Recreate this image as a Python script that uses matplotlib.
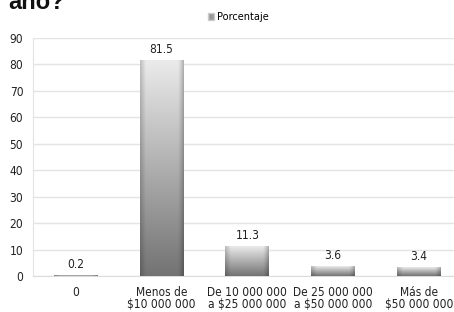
import numpy as np
import matplotlib.pyplot as plt
from matplotlib.patches import Rectangle

# --- Data ---
categories = ['0', 'Menos de\n$10 000 000', 'De 10 000 000\na $25 000 000',
              'De 25 000 000\na $50 000 000', 'Más de\n$50 000 000']
values = [0.2, 81.5, 11.3, 3.6, 3.4]
series_name = 'Porcentaje'
yticks = [0, 10, 20, 30, 40, 50, 60, 70, 80, 90]

plt.rcParams['font.family'] = ['DejaVu Sans', 'Liberation Sans']
plt.rcParams['font.stretch'] = 'condensed'

fig = plt.figure(figsize=(4.54, 3.12), dpi=100)
ax = fig.add_axes([0.0727, 0.1154, 0.9273, 0.7628])

x = np.arange(len(categories))
bar_w = 0.51

# gradient: light at top, dark at bottom, darker at the side edges
ny, nx = 100, 40
vert = np.linspace(0.45, 0.92, ny)[:, None]          # bottom -> top
hx = np.linspace(-1, 1, nx)
side = 1 - 0.18 * np.clip((np.abs(hx) - 0.75) / 0.25, 0, 1)
side = side - 0.06 * np.clip((hx - 0.85) / 0.15, 0, 1)
shade = vert * side[None, :]
img = np.dstack([shade, shade, shade])

for xi, v in zip(x, values):
    x0, x1 = xi - bar_w / 2, xi + bar_w / 2
    h = max(v, 0.25)
    ax.imshow(img, extent=(x0, x1, 0, h), origin='lower', aspect='auto',
              interpolation='bilinear', zorder=3)
    ax.text(xi, v + 1.6, f'{v}', ha='center', va='bottom', fontsize=8.6,
            color='#222222', zorder=4)

ax.set_xlim(-0.5, 4.41)
ax.set_ylim(0, 90)

ax.set_yticks(yticks)
ax.set_xticks(x)
ax.set_xticklabels(categories, fontsize=8.6, color='#222222', linespacing=0.92)
ax.tick_params(axis='y', labelsize=8.6, labelcolor='#222222', length=0, pad=7)
ax.tick_params(axis='x', length=0, pad=7)
ax.grid(axis='y', color='#e4e4e4', linewidth=1)
ax.set_axisbelow(True)
for s in ['top', 'right']:
    ax.spines[s].set_visible(False)
ax.spines['left'].set_color('#e4e4e4')
ax.spines['bottom'].set_color('#dcdcdc')

# legend
handle = Rectangle((0, 0), 1, 1, facecolor='#9a9a9a', edgecolor='#cccccc')
fig.legend([handle], [series_name], loc='center', bbox_to_anchor=(0.525, 0.945),
           frameon=False, fontsize=7.8, handlelength=0.6, handleheight=0.6,
           handletextpad=0.3)

# cropped title
fig.text(0.018, 1 - 9 / 312, 'año?', fontsize=17, weight='bold',
         va='baseline', ha='left', family='Liberation Sans', color='#111111')

fig.savefig('out.png', dpi=100)
